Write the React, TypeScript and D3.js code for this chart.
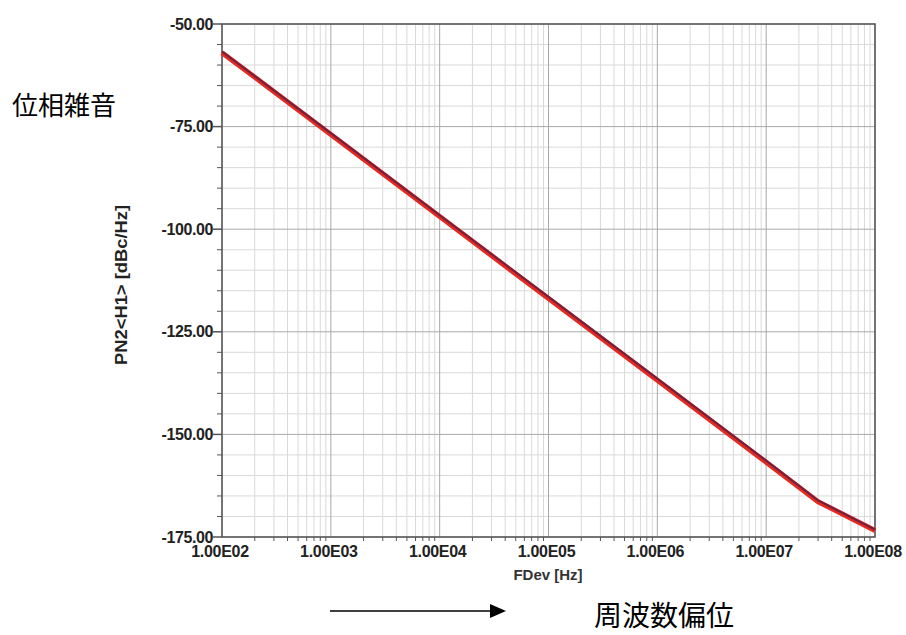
import React from "react";
import * as d3 from "d3";

const freq = [1e2, 1e3, 1e4, 1e5, 1e6, 1e7, 3e7, 1e8];
const pnDark = [-56.7, -76.6, -96.6, -116.5, -136.4, -156.4, -166.1, -173.2];
const pnRed = [-57.0, -76.9, -96.9, -116.9, -136.8, -156.8, -166.4, -173.4];
const xTicks = [1e2, 1e3, 1e4, 1e5, 1e6, 1e7, 1e8];
const xTickLabels = ["1.00E02", "1.00E03", "1.00E04", "1.00E05", "1.00E06", "1.00E07", "1.00E08"];
const yTicks = [-50, -75, -100, -125, -150, -175];
const yTickLabels = ["-50.00", "-75.00", "-100.00", "-125.00", "-150.00", "-175.00"];

const W = 906, H = 635;
const L = 222, R = 875, T = 24, B = 537;

export default function App() {
  const x = d3.scaleLog().domain([1e2, 1e8]).range([L, R]);
  const y = d3.scaleLinear().domain([-175, -50]).range([B, T]);

  const minorX: number[] = [];
  for (let e = 2; e < 8; e++) for (let m = 2; m <= 9; m++) minorX.push(m * Math.pow(10, e));
  const minorY = d3.range(-175, -49, 5).filter((v) => v % 25 !== 0);

  const line = d3
    .line<number>()
    .x((_, i) => x(freq[i]))
    .y((d) => y(d))
    .curve(d3.curveLinear);

  const font = "'Liberation Sans', Arial, sans-serif";
  const cjk = "'Noto Sans CJK JP', sans-serif";

  return (
    <svg width={W} height={H} style={{ position: "absolute", left: 0, top: 0, background: "#fff" }}>
      {/* minor grid */}
      {minorX.map((v, i) => (
        <line key={"mx" + i} x1={x(v)} x2={x(v)} y1={T} y2={B} stroke="#d9d9d9" strokeWidth={1} />
      ))}
      {minorY.map((v, i) => (
        <line key={"my" + i} x1={L} x2={R} y1={y(v)} y2={y(v)} stroke="#d9d9d9" strokeWidth={1} />
      ))}
      {/* major grid */}
      {xTicks.map((v, i) => (
        <line key={"Mx" + i} x1={x(v)} x2={x(v)} y1={T} y2={B} stroke="#a8a8a8" strokeWidth={1} />
      ))}
      {yTicks.map((v, i) => (
        <line key={"My" + i} x1={L} x2={R} y1={y(v)} y2={y(v)} stroke="#a8a8a8" strokeWidth={1} />
      ))}
      {/* frame */}
      <rect x={L} y={T} width={R - L} height={B - T} fill="none" stroke="#555" strokeWidth={1.5} />
      {/* ticks */}
      {minorY.map((v, i) => (
        <line key={"ty" + i} x1={L - 5} x2={L} y1={y(v)} y2={y(v)} stroke="#555" strokeWidth={1} />
      ))}
      {yTicks.map((v, i) => (
        <line key={"tY" + i} x1={L - 9} x2={L} y1={y(v)} y2={y(v)} stroke="#555" strokeWidth={1.5} />
      ))}
      {minorX.map((v, i) => (
        <line key={"tx" + i} x1={x(v)} x2={x(v)} y1={B} y2={B + 4} stroke="#555" strokeWidth={1} />
      ))}
      {/* series */}
      <path d={line(pnRed) || ""} fill="none" stroke="#e32a1f" strokeWidth={5} strokeLinejoin="round" />
      <path d={line(pnDark) || ""} fill="none" stroke="#72203f" strokeWidth={2} strokeLinejoin="round" />
      {/* y tick labels */}
      {yTicks.map((v, i) => (
        <text key={"yl" + i} x={L - 9} y={y(v) + 5.5} textAnchor="end" fontFamily={font} fontWeight="bold" fontSize={16} fill="#222" letterSpacing={-0.4}>
          {yTickLabels[i]}
        </text>
      ))}
      {/* x tick labels */}
      {xTicks.map((v, i) => (
        <text key={"xl" + i} x={x(v) - 2} y={557} textAnchor="middle" fontFamily={font} fontWeight="bold" fontSize={16} fill="#222" letterSpacing={-0.3}>
          {xTickLabels[i]}
        </text>
      ))}
      {/* axis titles */}
      <text x={548} y={580} textAnchor="middle" fontFamily={font} fontWeight="bold" fontSize={15} fill="#333">
        FDev [Hz]
      </text>
      <text transform={`translate(127,285) rotate(-90)`} textAnchor="middle" fontFamily={font} fontWeight="bold" fontSize={16} fill="#222" textLength={160} lengthAdjust="spacingAndGlyphs">
        {"PN2<H1> [dBc/Hz]"}
      </text>
      {/* annotations */}
      <text x={12} y={115} fontFamily={cjk} fontSize={26} fill="#000">
        位相雑音
      </text>
      <line x1={330} x2={492} y1={611} y2={611} stroke="#000" strokeWidth={1.5} />
      <path d="M490,604 L506,611 L490,618 Z" fill="#000" />
      <text x={594} y={626} fontFamily={cjk} fontSize={28} fill="#000">
        周波数偏位
      </text>
    </svg>
  );
}
